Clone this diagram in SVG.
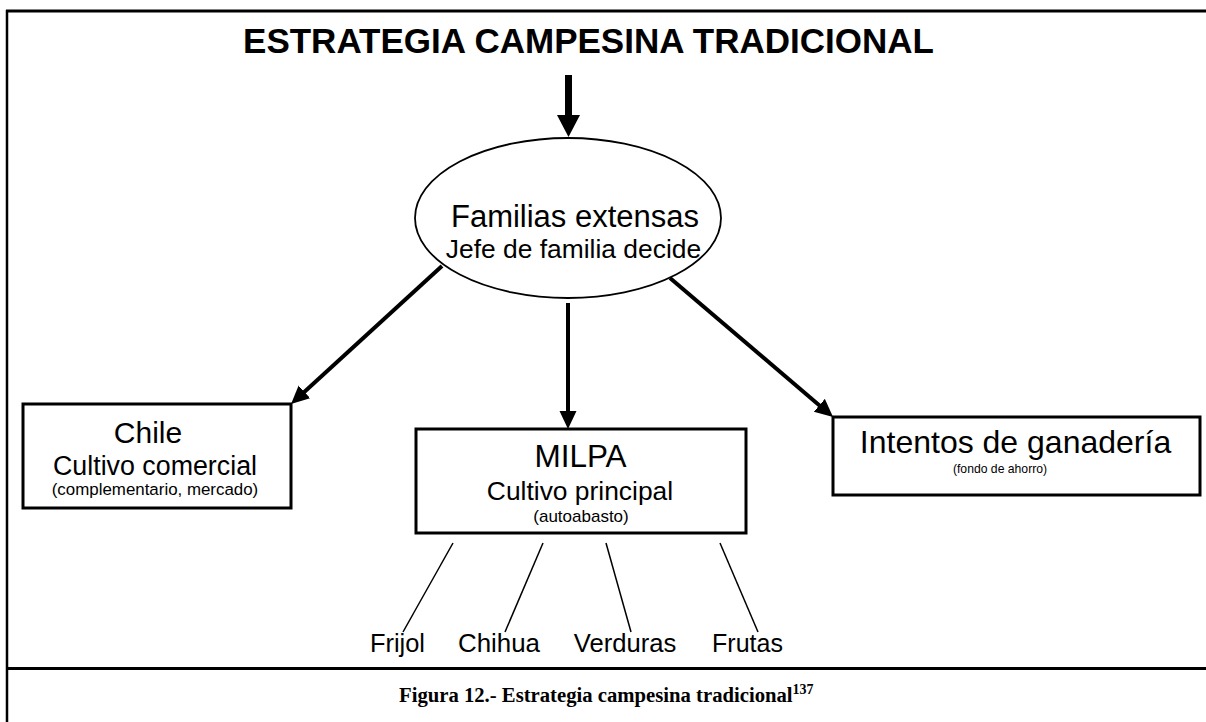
<svg xmlns="http://www.w3.org/2000/svg" width="1206" height="722" viewBox="0 0 1206 722">
<style>
.t{font-family:"Liberation Sans",Arial,sans-serif;fill:#000;text-anchor:middle}
.box{fill:#fff;stroke:#000;stroke-width:3}
.conn{stroke:#000;stroke-width:4;fill:none}
.thin{stroke:#000;stroke-width:1.5;fill:none}
.frame{stroke:#000;fill:none}
</style>
<defs>
<marker id="ah" markerUnits="userSpaceOnUse" markerWidth="20" markerHeight="18" refX="6" refY="8.5" orient="auto" viewBox="0 0 20 18">
<path d="M0,0 L18,8.5 L0,17 z" fill="#000"/>
</marker>
</defs>
<rect x="0" y="0" width="1206" height="722" fill="#fff"/>
<g id="frame">
<line class="frame" x1="6" y1="11" x2="1206" y2="11" stroke-width="3"/>
<line class="frame" x1="7" y1="10" x2="7" y2="722" stroke-width="2.5"/>
<line class="frame" x1="6" y1="668.5" x2="1206" y2="668.5" stroke-width="3"/>
</g>
<g id="title">
<text class="t" x="588.5" y="53" font-size="35" font-weight="bold">ESTRATEGIA CAMPESINA TRADICIONAL</text>
</g>
<g id="connectors">
<line x1="568.5" y1="75" x2="568.5" y2="117" stroke="#000" stroke-width="7"/>
<polygon points="557,115 580,115 568.5,137" fill="#000"/>
<line class="conn" x1="442" y1="266" x2="299.9" y2="395.9" marker-end="url(#ah)"/>
<line class="conn" x1="568" y1="303" x2="568" y2="417" marker-end="url(#ah)"/>
<line class="conn" x1="670" y1="278" x2="823.9" y2="409.2" marker-end="url(#ah)"/>
<line class="thin" x1="453" y1="543" x2="403" y2="632"/>
<line class="thin" x1="543" y1="543" x2="505" y2="632"/>
<line class="thin" x1="606" y1="543" x2="631" y2="632"/>
<line class="thin" x1="720" y1="543" x2="758" y2="632"/>
</g>
<g id="familias">
<ellipse cx="568" cy="218" rx="153" ry="80" fill="#fff" stroke="#000" stroke-width="1.8"/>
<text class="t" x="575" y="227" font-size="31">Familias extensas</text>
<text class="t" x="573.5" y="258" font-size="26.4">Jefe de familia decide</text>
</g>
<g id="chile">
<rect class="box" x="23" y="404" width="268" height="104"/>
<text class="t" x="148" y="443" font-size="30">Chile</text>
<text class="t" x="155" y="475" font-size="26.8">Cultivo comercial</text>
<text class="t" x="155" y="495" font-size="16.9">(complementario, mercado)</text>
</g>
<g id="milpa">
<rect class="box" x="416" y="429" width="330" height="104"/>
<text class="t" x="580.5" y="467" font-size="31.5">MILPA</text>
<text class="t" x="580" y="500" font-size="26.4">Cultivo principal</text>
<text class="t" x="581" y="522" font-size="17">(autoabasto)</text>
</g>
<g id="ganaderia">
<rect class="box" x="833" y="417" width="367" height="78"/>
<text class="t" x="1015.5" y="453" font-size="32">Intentos de ganadería</text>
<text class="t" x="1000" y="473" font-size="12.2">(fondo de ahorro)</text>
</g>
<g id="frijol"><text class="t" x="397.5" y="652" font-size="25.4">Frijol</text></g>
<g id="chihua"><text class="t" x="499" y="652" font-size="25.9">Chihua</text></g>
<g id="verduras"><text class="t" x="625" y="652" font-size="25.6">Verduras</text></g>
<g id="frutas"><text class="t" x="747.5" y="652" font-size="25">Frutas</text></g>
<g id="caption">
<text x="399" y="702" font-family="'Liberation Serif','Times New Roman',serif" font-weight="bold" font-size="20.7">Figura 12.- Estrategia campesina tradicional<tspan font-size="14" dy="-8">137</tspan></text>
</g>
</svg>
